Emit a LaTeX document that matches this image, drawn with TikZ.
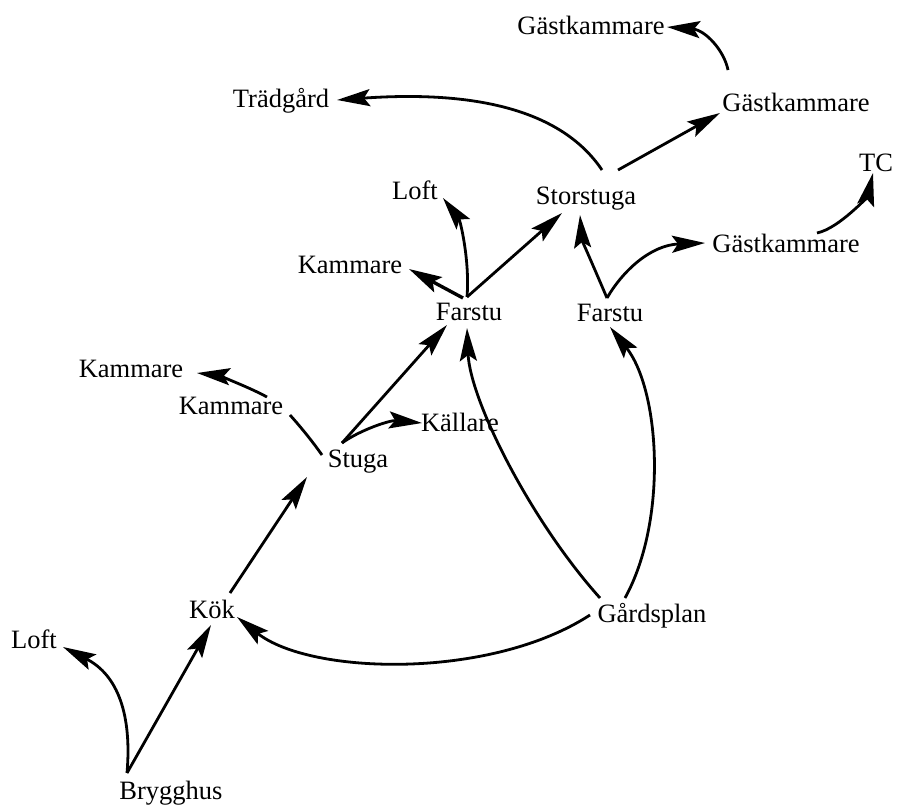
\documentclass[tikz,border=0pt]{standalone}
\usepackage{fontspec}
\setmainfont{Liberation Serif}
\usetikzlibrary{arrows.meta}
\begin{document}
\begin{tikzpicture}[x=1pt,y=-1pt,
  lbl/.style={anchor=base,inner sep=0pt,font=\fontsize{26.5}{30}\selectfont},
  con/.style={line width=2.8pt,-{Stealth[length=33pt,width=17pt,inset=6pt]}},
  plainline/.style={line width=2.8pt}]
\useasboundingbox (0,0) rectangle (897,809);
% nodes
\node[lbl] (gktop) at (591,34) {Gästkammare};
\node[lbl] (trad) at (281,107) {Trädgård};
\node[lbl] (gkright) at (796,111) {Gästkammare};
\node[lbl] (tc) at (876,171) {TC};
\node[lbl] (stor) at (586,204) {Storstuga};
\node[lbl] (loftup) at (415,199) {Loft};
\node[lbl] (kamup) at (350,273) {Kammare};
\node[lbl] (far1) at (469,320) {Farstu};
\node[lbl] (far2) at (610,321) {Farstu};
\node[lbl] (gklow) at (786,252) {Gästkammare};
\node[lbl] (kamleft) at (131,377) {Kammare};
\node[lbl] (kammid) at (231,414) {Kammare};
\node[lbl] (kallare) at (460,431) {Källare};
\node[lbl] (stuga) at (358,467) {Stuga};
\node[lbl] (kok) at (212,618) {Kök};
\node[lbl] (gard) at (652,622) {Gårdsplan};
\node[lbl] (loftlow) at (34,648) {Loft};
\node[lbl] (bryg) at (171,799) {Brygghus};
% connectors
\draw[con] ([shift={(-68,-41)}]gkright.base) .. controls (724,50) and (705,30) .. ([shift={(76,-7)}]gktop.base);
\draw[con] ([shift={(16,-34)}]stor.base) .. controls (555,100) and (450,92) .. ([shift={(56,-7)}]trad.base);
\draw[con] ([shift={(32,-34)}]stor.base) -- ([shift={(-76,2)}]gkright.base);
\draw[con] ([shift={(31,-19)}]gklow.base) .. controls (840,228) and (868,195) .. ([shift={(-3,2)}]tc.base);
\draw[con] ([shift={(-2,-23)}]far1.base) .. controls (470,260) and (460,220) .. ([shift={(28,-1)}]loftup.base);
\draw[con,line width=3.4pt] ([shift={(-6,-22)}]far1.base) -- ([shift={(59,-4)}]kamup.base);
\draw[con] ([shift={(-2,-23)}]far1.base) -- ([shift={(-24,9)}]stor.base);
\draw[con] ([shift={(-3,-23)}]far2.base) .. controls (595,270) and (582,240) .. ([shift={(-6,11)}]stor.base);
\draw[con] ([shift={(-3,-23)}]far2.base) .. controls (622,272) and (650,245) .. ([shift={(-81,-9)}]gklow.base);
\draw[con] ([shift={(-16,-24)}]stuga.base) -- ([shift={(-22,5)}]far1.base);
\draw[con] ([shift={(-16,-24)}]stuga.base) .. controls (360,430) and (390,420) .. ([shift={(-38,-8)}]kallare.base);
\draw[plainline] ([shift={(-36,-12)}]stuga.base) .. controls (310,438) and (298,424) .. ([shift={(59,1)}]kammid.base);
\draw[con] ([shift={(36,-17)}]kammid.base) .. controls (245,385) and (215,375) .. ([shift={(66,-4)}]kamleft.base);
\draw[con] ([shift={(18,-25)}]kok.base) -- ([shift={(-51,10)}]stuga.base);
\draw[con] ([shift={(-62,-7)}]gard.base) .. controls (490,680) and (310,675) .. ([shift={(25,-1)}]kok.base);
\draw[con] ([shift={(-52,-24)}]gard.base) .. controls (530,520) and (470,400) .. ([shift={(-2,8)}]far1.base);
\draw[con] ([shift={(-27,-24)}]gard.base) .. controls (668,520) and (660,390) .. ([shift={(0,6)}]far2.base);
\draw[con] ([shift={(-44,-26)}]bryg.base) .. controls (132,715) and (118,675) .. ([shift={(29,-1)}]loftlow.base);
\draw[con] ([shift={(-44,-26)}]bryg.base) -- ([shift={(-1,7)}]kok.base);
\end{tikzpicture}
\end{document}
